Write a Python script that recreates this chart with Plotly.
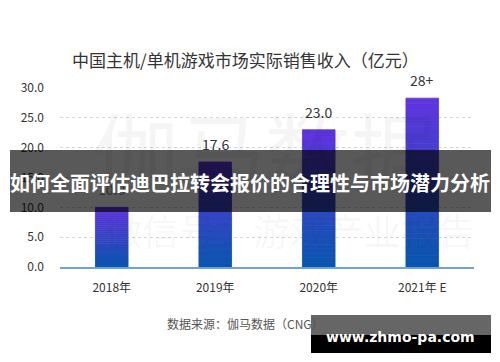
import plotly.graph_objects as go

categories = ["2018年", "2019年", "2020年", "2021年 E"]
values = [10.0, 17.6, 23.0, 28.3]
value_labels = ["10.0", "17.6", "23.0", "28+"]
y_ticks = [0, 5, 10, 15, 20, 25, 30]
y_tick_labels = ["0.0", "5.0", "10.0", "15.0", "20.0", "25.0", "30.0"]

FONT = "Noto Sans CJK SC, Noto Sans, sans-serif"

# plot area in pixels
L, R, T, B = 60, 474, 88, 267
W, H = 500, 362


def px(x):
    return (x - L) / (R - L)


def py(y):
    return (B - y) / (B - T)


top_rgb = (96, 52, 222)
bot_rgb = (8, 86, 172)
N = 30

fig = go.Figure()
for i in range(N):
    f = (i + 0.5) / N
    c = "rgb(%d,%d,%d)" % tuple(round(bot_rgb[k] + (top_rgb[k] - bot_rgb[k]) * f) for k in range(3))
    fig.add_trace(go.Bar(
        x=categories,
        y=[v / N for v in values],
        base=[v * i / N for v in values],
        marker=dict(color=c, line=dict(width=0.8, color=c)),
        width=0.315,
        hoverinfo="skip",
        showlegend=False,
    ))


def ann(x, y, text, size, color, family=FONT):
    return dict(
        x=px(x), y=py(y), xref="paper", yref="paper", text=text, showarrow=False,
        xanchor="center", yanchor="middle",
        font=dict(family=family, size=size, color=color),
    )


annotations = []
for cat, v, lab in zip(categories, values, value_labels):
    annotations.append(dict(
        x=cat, y=v, xref="x", yref="y", text=lab, showarrow=False,
        xanchor="center", yanchor="bottom", yshift=6,
        font=dict(family=FONT, size=14, color="#333333"),
    ))

# watermarks
annotations.append(ann(265, 148, "伽马数据", 86, "rgba(0,0,0,0.04)"))
annotations.append(ann(290, 230, "微信号：游戏产业报告", 37, "rgba(0,0,0,0.04)"))
# title
annotations.append(ann(245, 60, "中国主机/单机游戏市场实际销售收入（亿元）", 17, "#333333"))
# source
annotations.append(ann(245, 323, "数据来源：伽马数据（CNG）", 12, "#555555"))
# banner text
annotations.append(ann(250, 182, "<b>如何全面评估迪巴拉转会报价的合理性与市场潜力分析</b>", 20, "#ffffff"))
# site text
annotations.append(ann(400, 337, "<b>www.zhmo-pa.com</b>", 14, "#ffffff", "DejaVu Sans, sans-serif"))

shapes = [
    dict(type="rect", xref="paper", yref="paper", x0=px(10), x1=px(491), y0=py(212), y1=py(150),
         fillcolor="rgba(0,0,0,0.65)", line=dict(width=0), layer="above"),
    dict(type="rect", xref="paper", yref="paper", x0=px(311), x1=px(491), y0=py(335), y1=py(315),
         fillcolor="rgba(0,0,0,0.6)", line=dict(width=0), layer="above"),
    dict(type="rect", xref="paper", yref="paper", x0=px(311), x1=px(491), y0=py(353), y1=py(335),
         fillcolor="#000000", line=dict(width=0), layer="above"),
]

fig.update_layout(
    width=W, height=H,
    margin=dict(l=L, r=W - R, t=T, b=H - B, pad=0),
    paper_bgcolor="white", plot_bgcolor="white",
    barmode="overlay",
    annotations=annotations,
    shapes=shapes,
    showlegend=False,
    font=dict(family=FONT, color="#333333"),
)
fig.update_xaxes(
    range=[-0.5, 3.5], showline=True, linecolor="#6fa3d8", linewidth=1.5,
    showgrid=False, ticks="", tickfont=dict(family=FONT, size=12, color="#333333"),
    ticklabelstandoff=9,
)
fig.update_yaxes(
    range=[0, 30], tickvals=y_ticks, ticktext=y_tick_labels,
    showgrid=True, gridcolor="#d6d6d6", griddash="dot", gridwidth=1,
    zeroline=False, showline=False, ticks="",
    tickfont=dict(family=FONT, size=12, color="#333333"),
    ticklabelstandoff=15,
)

fig.write_html(
    "out.html",
    config={"displayModeBar": False},
    post_script="document.body.style.margin='0';document.body.style.padding='0';"
                "document.documentElement.style.overflow='hidden';",
)
